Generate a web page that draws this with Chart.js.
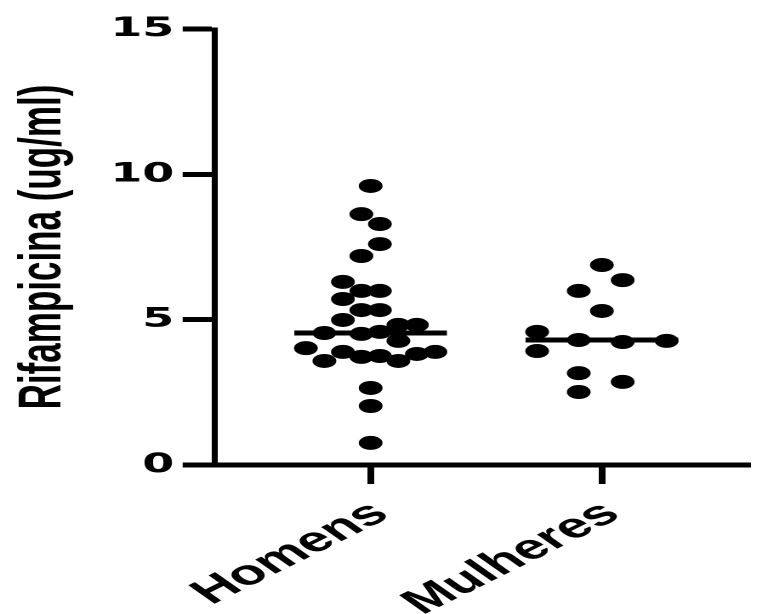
<!DOCTYPE html>
<html>
<head>
<meta charset="utf-8">
<script src="https://cdn.jsdelivr.net/npm/chart.js@4.4.1/dist/chart.umd.min.js"></script>
<style>
  html, body { margin: 0; padding: 0; background: #fff; overflow: hidden; }
  /* a figura original está esticada na horizontal */
  #wrap { width: 448px; height: 614px; transform: scaleX(1.7009); transform-origin: 0 0; }
</style>
</head>
<body>
<div id="wrap"><canvas id="grafico"></canvas></div>
<script>
const categorias = ["Homens", "Mulheres"];
const yTicks = [0, 5, 10, 15];

// valores (ug/ml) e deslocamento horizontal de cada ponto
const homensValores = [9.60, 8.63, 8.29, 7.60, 7.19, 6.30, 5.99, 5.99, 5.71, 5.33, 5.33, 4.99, 4.82, 4.82, 4.54,
  4.51, 4.58, 4.27, 4.02, 3.89, 3.58, 3.72, 3.75, 3.58, 3.82, 3.89, 2.65, 2.03, 0.76];
const homensDesvio = [0, -0.04, 0.04, 0.04, -0.04, -0.12, -0.04, 0.04, -0.12, -0.04, 0.04, -0.12, 0.12, 0.20, -0.20,
  -0.04, 0.04, 0.12, -0.28, -0.12, -0.20, -0.04, 0.04, 0.12, 0.20, 0.28, 0, 0, 0];

const mulheresValores = [6.88, 6.36, 5.99, 5.30, 4.58, 4.30, 4.23, 4.27, 3.92, 3.16, 2.86, 2.51];
const mulheresDesvio = [0, 0.09, -0.10, 0, -0.28, -0.10, 0.09, 0.28, -0.28, -0.10, 0.09, -0.10];

const medianas = [4.54, 4.30];
const larguraMediana = 0.33;

function pontos(valores, desvios, pos) {
  return valores.map((v, i) => ({ x: pos + desvios[i], y: v }));
}

function linhaMediana(m, pos) {
  return [{ x: pos - larguraMediana, y: m }, { x: pos + larguraMediana, y: m }];
}

const estiloPonto = { backgroundColor: "#000", borderColor: "#000", pointRadius: 7, pointHoverRadius: 7, borderWidth: 0 };
const estiloLinha = { type: "line", borderColor: "#000", borderWidth: 5, pointRadius: 0, borderCapStyle: "butt" };

new Chart(document.getElementById("grafico"), {
  type: "scatter",
  data: {
    datasets: [
      Object.assign({ data: pontos(homensValores, homensDesvio, 1) }, estiloPonto),
      Object.assign({ data: pontos(mulheresValores, mulheresDesvio, 2) }, estiloPonto),
      Object.assign({ data: linhaMediana(medianas[0], 1) }, estiloLinha),
      Object.assign({ data: linhaMediana(medianas[1], 2) }, estiloLinha),
    ],
  },
  options: {
    responsive: true,
    maintainAspectRatio: false,
    animation: false,
    devicePixelRatio: 2,
    events: [],
    layout: { padding: { top: 29, right: 0, bottom: 0, left: 0 } },
    plugins: { legend: { display: false }, tooltip: { enabled: false } },
    scales: {
      x: {
        type: "linear",
        min: 0.327,
        max: 2.641,
        afterBuildTicks: (s) => { s.ticks = categorias.map((c, i) => ({ value: i + 1 })); },
        afterFit: (s) => { s.height = 149; },
        border: { color: "#000", width: 5 },
        grid: { drawOnChartArea: false, tickLength: 19, tickWidth: 4, tickColor: "#000" },
        ticks: {
          autoSkip: false,
          minRotation: 40,
          maxRotation: 40,
          padding: 9,
          labelOffset: 6,
          color: "#000",
          font: { family: "'Liberation Sans', Arial, sans-serif", weight: "bold", size: 35 },
          callback: (v) => categorias[v - 1],
        },
      },
      y: {
        min: 0,
        max: 15,
        afterBuildTicks: (s) => { s.ticks = yTicks.map((v) => ({ value: v })); },
        afterFit: (s) => { s.width = 126.4; },
        border: { color: "#000", width: 3.5 },
        grid: { drawOnChartArea: false, tickLength: 19, tickWidth: 5, tickColor: "#000" },
        ticks: {
          padding: 5,
          color: "#000",
          font: { family: "'DejaVu Sans', sans-serif", weight: "bold", size: 27 },
        },
        title: {
          display: true,
          text: "Rifampicina (ug/ml)",
          color: "#000",
          padding: { top: 5, bottom: 0 },
          font: { family: "'Liberation Sans', Arial, sans-serif", weight: "bold", size: 35 },
        },
      },
    },
  },
});
</script>
</body>
</html>
